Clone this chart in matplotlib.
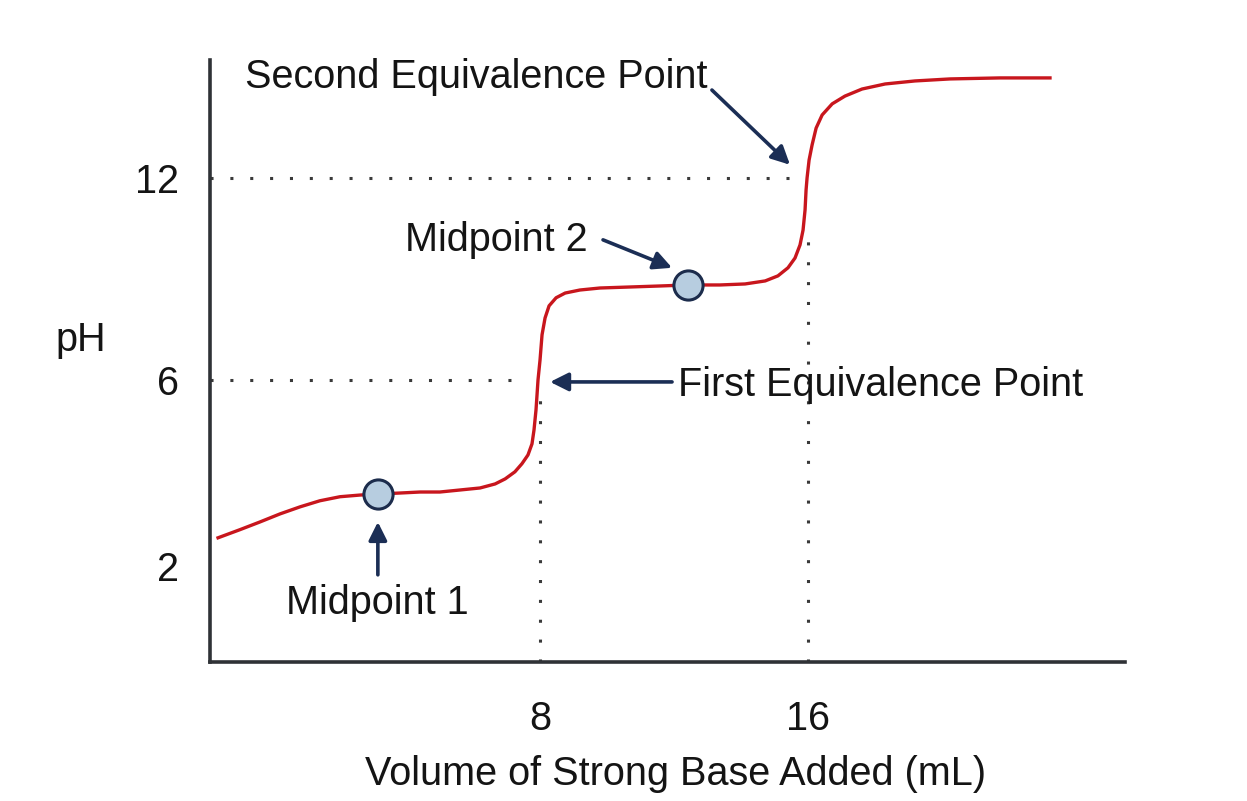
import matplotlib
matplotlib.use("Agg")
import matplotlib.pyplot as plt

plt.rcParams['font.family'] = ['Liberation Sans', 'DejaVu Sans']

# titration curve (mL of base, pH in drawing units)
volume = [-1.61, -0.96, -0.36, 0.24, 0.84, 1.43, 2.03, 2.63, 3.16, 3.82,
          4.42, 5.01, 5.61, 6.21, 6.66, 6.96, 7.25, 7.46, 7.64, 7.76,
          7.82, 7.88, 7.91, 7.94, 8.00, 8.06, 8.15, 8.27, 8.48, 8.75,
          9.19, 9.79, 10.69, 11.58, 12.42, 13.37, 14.12, 14.72, 15.10, 15.40,
          15.61, 15.76, 15.85, 15.91, 15.94, 15.97, 16.03, 16.12, 16.24, 16.42,
          16.72, 17.10, 17.61, 18.30, 19.19, 20.24, 21.73, 23.22]
ph = [1.31, 1.55, 1.78, 2.02, 2.23, 2.41, 2.53, 2.58, 2.61, 2.64,
      2.67, 2.67, 2.73, 2.79, 2.91, 3.06, 3.27, 3.51, 3.77, 4.10,
      4.51, 5.11, 5.55, 6.00, 6.59, 7.34, 7.84, 8.20, 8.44, 8.58,
      8.67, 8.73, 8.76, 8.79, 8.82, 8.82, 8.85, 8.94, 9.09, 9.33,
      9.62, 10.01, 10.45, 11.05, 11.64, 12.00, 12.53, 12.98, 13.48, 13.87,
      14.20, 14.43, 14.64, 14.79, 14.88, 14.94, 14.97, 14.97]

mid_vol = [3.16, 12.42]
mid_ph = [2.61, 8.82]

equiv_vol = [8, 16]
equiv_ph = [6, 12]
equiv_top = [5.8, 10.45]      # where the vertical guide stops
equiv_right = [7.4, 15.67]    # where the horizontal guide stops

xtick_pos = [8, 16]
xtick_labels = ['8', '16']
ytick_pos = [0.48, 6, 12]
ytick_labels = ['2', '6', '12']

fig = plt.figure(figsize=(12.47, 8.01), dpi=100)
ax = fig.add_axes([0.1684, 0.1735, 0.7338, 0.7515])
xmin, xmax = -1.85, 25.46
ymin, ymax = -2.38, 15.5
ax.set_xlim(xmin, xmax)
ax.set_ylim(ymin, ymax)

guide = dict(color='#3a3a3a', lw=2.2, linestyle=(0, (1, 5.5)), zorder=1)
for v, p, top, right in zip(equiv_vol, equiv_ph, equiv_top, equiv_right):
    ax.plot([xmin, right], [p, p], **guide)
    ax.plot([v, v], [ymin, top], **guide)

ax.plot(volume, ph, color='#c8161d', lw=2.4, zorder=3)
ax.plot(mid_vol, mid_ph, 'o', ms=21, mfc='#b7cde0', mec='#1c2c4c', mew=2.2, zorder=4)

navy = '#1b2e55'
arrow = dict(arrowstyle='-|>,head_length=1.1,head_width=0.55', color=navy, lw=2.6,
             shrinkA=0, shrinkB=0)
fs = 28.5
tc = '#141414'

ax.annotate('', xy=(15.46, 12.39), xytext=(13.13, 14.61), arrowprops=arrow)
ax.text(-0.81, 15.0, 'Second Equivalence Point', fontsize=fs, ha='left', va='center', color=tc)

ax.annotate('', xy=(11.94, 9.33), xytext=(9.88, 10.16), arrowprops=arrow)
ax.text(3.97, 10.16, 'Midpoint 2', fontsize=fs, ha='left', va='center', color=tc)

ax.annotate('', xy=(8.30, 5.94), xytext=(11.94, 5.94), arrowprops=arrow)
ax.text(12.12, 5.85, 'First Equivalence Point', fontsize=fs, ha='left', va='center', color=tc)

ax.annotate('', xy=(3.16, 1.78), xytext=(3.16, 0.21), arrowprops=arrow)
ax.text(3.13, -0.62, 'Midpoint 1', fontsize=fs, ha='center', va='center', color=tc)

for side in ['top', 'right']:
    ax.spines[side].set_visible(False)
for side in ['left', 'bottom']:
    ax.spines[side].set_color('#2f3236')
    ax.spines[side].set_linewidth(2.6)

ax.set_xticks(xtick_pos)
ax.set_xticklabels(xtick_labels)
ax.set_yticks(ytick_pos)
ax.set_yticklabels(ytick_labels)
ax.tick_params(axis='both', length=0, labelsize=fs, colors=tc)
ax.tick_params(axis='x', pad=27)
ax.tick_params(axis='y', pad=22)

ax.set_xlabel('Volume of Strong Base Added (mL)', fontsize=fs, color=tc, labelpad=10)
ax.xaxis.set_label_coords(0.509, -0.155)
ax.set_ylabel('pH', fontsize=fs, rotation=0, ha='center', va='center', color=tc)
ax.yaxis.set_label_coords(-0.141, 0.535)

fig.savefig('out.png', dpi=100)
